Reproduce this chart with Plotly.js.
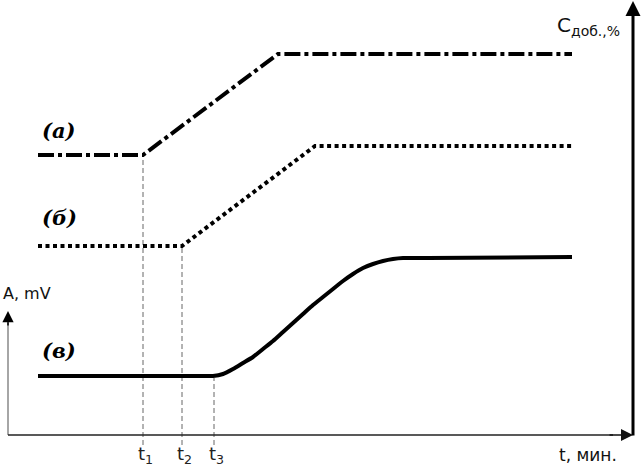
<!DOCTYPE html>
<html>
<head>
<meta charset="utf-8">
<script src="https://cdn.plot.ly/plotly-3.0.1.min.js"></script>
<style>html,body{margin:0;padding:0;background:#fff;}#chart{width:642px;height:466px;}</style>
</head>
<body>
<div id="chart"></div>
<script>
// Schematic data (time t in arbitrary units, signal in arbitrary units)
var tA = [30, 135, 270, 564];
var yA = [280, 280, 381, 381];

var tB = [30, 174, 307, 564];
var yB = [189, 189, 289, 289];

var tV = [30, 120, 195, 205, 215, 225, 235, 245, 255, 265, 275, 285, 295, 305, 315, 325, 335, 345, 355, 365, 375, 385, 395, 420, 564];
var yV = [59, 59, 59, 59, 61, 66, 72, 78, 86, 94, 103, 112, 121, 130, 138, 146, 154, 161, 167, 171, 174, 176, 177, 177, 178];

var tMarks = [135, 174, 206];
var tMarkTops = [yA[0] - 2, yB[0] - 2, yV[0] - 2];
var tMarkLabels = ["t<sub>1</sub>", "t<sub>2</sub>", "t<sub>3</sub>"];

var curveLabels = ["(а)", "(б)", "(в)"];
var curveLabelY = [305, 218, 85];

var xAxisLabel = "t, мин.";
var yLeftLabel = "A, mV";
var yRightLabel = "С<sub>доб.,%</sub>";

var font = "DejaVu Sans, Verdana, sans-serif";

var traces = [];
// dashed verticals
for (var i = 0; i < tMarks.length; i++) {
  traces.push({
    x: [tMarks[i], tMarks[i]], y: [-10, tMarkTops[i]],
    mode: "lines", line: {color: "#666", width: 1, dash: "5px,3px"},
    hoverinfo: "skip"
  });
}
traces.push({x: tA, y: yA, mode: "lines",
  line: {color: "#000", width: 4, dash: "16px,4px,4px,4px"}});
traces.push({x: tB, y: yB, mode: "lines",
  line: {color: "#000", width: 4, dash: "4px,3.5px"}});
traces.push({x: tV, y: yV, mode: "lines",
  line: {color: "#000", width: 4, shape: "spline", smoothing: 0.6, simplify: false}});

var annotations = [];
for (var i = 0; i < tMarks.length; i++) {
  annotations.push({x: tMarks[i] + 2, y: -20, xref: "x", yref: "y", text: tMarkLabels[i],
    showarrow: false, font: {family: font, size: 18, color: "#222"}});
}
for (var i = 0; i < curveLabels.length; i++) {
  annotations.push({x: 32, y: curveLabelY[i], xref: "x", yref: "y", xanchor: "left",
    text: "<b><i>" + curveLabels[i] + "</i></b>", showarrow: false,
    font: {family: "DejaVu Serif, serif", size: 21, color: "#000"}});
}
annotations.push({x: -7, y: 142, xref: "x", yref: "y", xanchor: "left", text: yLeftLabel,
  showarrow: false, font: {family: font, size: 16, color: "#111"}});
annotations.push({x: 549, y: -20, xref: "x", yref: "y", xanchor: "left", text: xAxisLabel,
  showarrow: false, font: {family: font, size: 17, color: "#111"}});
annotations.push({x: 614, y: 409, xref: "x", yref: "y", xanchor: "right", text: yRightLabel,
  showarrow: false, font: {family: font, size: 20, color: "#111"}});

// axis arrows
annotations.push({x: 0, y: 124, ax: 0, ay: 108, xref: "x", yref: "y", axref: "x", ayref: "y",
  text: "", showarrow: true, arrowhead: 2, arrowwidth: 1.5, arrowsize: 1.5, arrowcolor: "#000"});
annotations.push({x: 625, y: 0, ax: 600, ay: 0, xref: "x", yref: "y", axref: "x", ayref: "y",
  text: "", showarrow: true, arrowhead: 2, arrowwidth: 1.5, arrowsize: 1.6, arrowcolor: "#111"});
annotations.push({x: 625, y: 434, ax: 625, ay: -2, xref: "x", yref: "y", axref: "x", ayref: "y",
  text: "", showarrow: true, arrowhead: 2, arrowwidth: 3, arrowsize: 1, arrowcolor: "#000"});

var shapes = [
  {type: "line", xref: "x", yref: "y", x0: 0, y0: 0, x1: 0, y1: 112, line: {color: "#888", width: 1.5}},
  {type: "line", xref: "x", yref: "y", x0: 0, y0: 0, x1: 605, y1: 0, line: {color: "#222", width: 1.3}}
];

var layout = {
  width: 642, height: 466,
  margin: {l: 0, r: 0, t: 0, b: 0},
  paper_bgcolor: "#fff", plot_bgcolor: "#fff",
  showlegend: false,
  xaxis: {range: [-8, 634], visible: false, fixedrange: true},
  yaxis: {range: [-31, 435], visible: false, fixedrange: true},
  annotations: annotations,
  shapes: shapes
};

Plotly.newPlot("chart", traces, layout, {staticPlot: true, displayModeBar: false});
</script>
</body>
</html>
